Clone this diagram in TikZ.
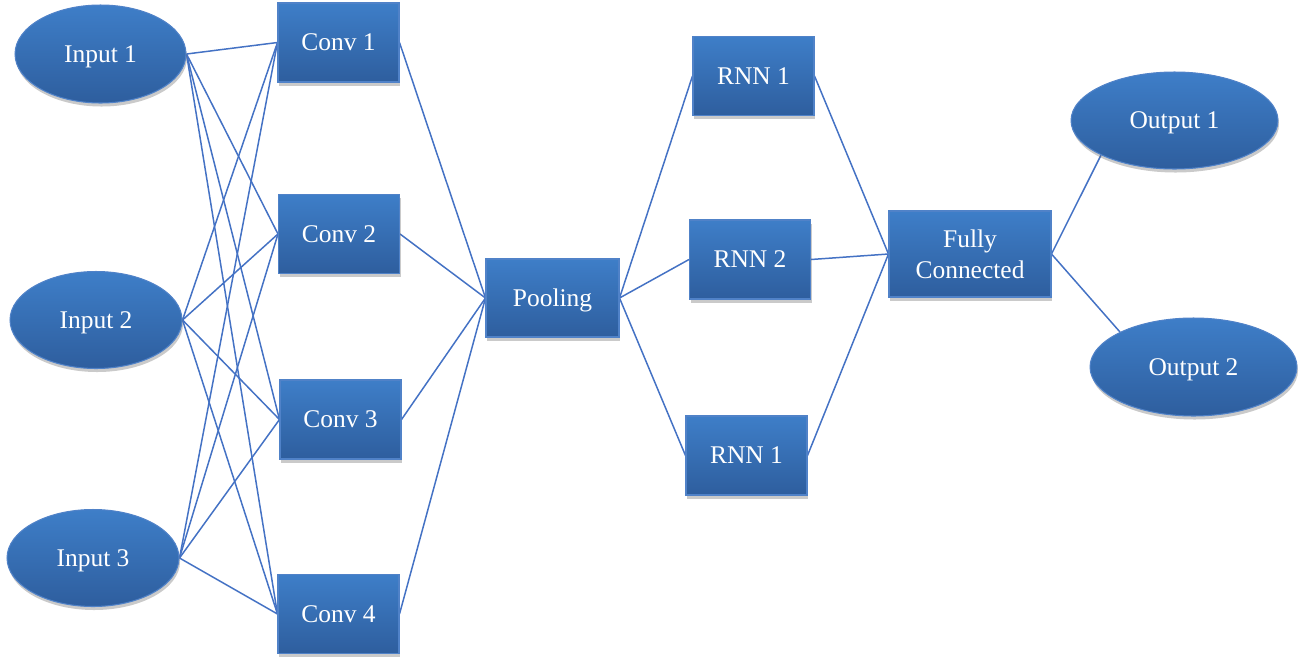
\documentclass[tikz,border=0pt]{standalone}
\usepackage{fontspec}
\setmainfont{Liberation Serif}
\usetikzlibrary{shapes.geometric,shadows,backgrounds}
\definecolor{topblue}{RGB}{62,126,200}
\definecolor{botblue}{RGB}{46,94,158}
\definecolor{edgeblue}{RGB}{80,130,200}
\definecolor{linkblue}{RGB}{68,114,196}
\tikzset{
  nodebase/.style={draw=edgeblue, line width=0.6pt, top color=topblue, bottom color=botblue,
    text=white, font=\fontsize{14.5}{17.5}\selectfont, inner sep=0pt, align=center,
    drop shadow={shadow xshift=0.6pt, shadow yshift=-2pt, opacity=0.35, fill=black!60}},
  oneline/.style={text height=0.95em, text depth=0pt},
  layerbox/.style={nodebase, rectangle, minimum width=2.42cm, minimum height=1.58cm},
  oval/.style={nodebase, oneline, ellipse, minimum width=3.44cm, minimum height=1.94cm},
  link/.style={draw=linkblue, line width=0.85pt}
}
\begin{document}
\begin{tikzpicture}[x=0.02cm, y=-0.02cm]
\useasboundingbox (0,0) rectangle (1299,657);
\node[oval, minimum width=3.42cm, minimum height=1.96cm] (in1) at (100.5,54) {Input 1};
\node[oval] (in2) at (96,320) {Input 2};
\node[oval] (in3) at (93,558) {Input 3};
\node[layerbox, oneline] (c1) at (338.5,42.5) {Conv 1};
\node[layerbox, oneline] (c2) at (339,234) {Conv 2};
\node[layerbox, oneline] (c3) at (340.5,419.5) {Conv 3};
\node[layerbox, oneline] (c4) at (338.5,614) {Conv 4};
\node[layerbox, oneline, minimum width=2.66cm, minimum height=1.56cm] (pool) at (552.5,298) {Pooling};
\node[layerbox, oneline] (r1) at (753.5,76) {RNN 1};
\node[layerbox, oneline] (r2) at (750,259.5) {RNN 2};
\node[layerbox, oneline] (r3) at (746.5,455.5) {RNN 1};
\node[layerbox, minimum width=3.24cm, minimum height=1.72cm] (fc) at (970,254) {Fully\\Connected};
\node[oval, minimum width=4.14cm, minimum height=1.94cm] (o1) at (1174.5,120.5) {Output 1};
\node[oval, minimum width=4.14cm, minimum height=1.96cm] (o2) at (1193.5,367) {Output 2};
\begin{scope}[on background layer]
\foreach \i in {in1,in2,in3}{
  \foreach \j in {c1,c2,c3,c4}{
    \draw[link] (\i.east) -- (\j.west);
  }
}
\foreach \j in {c1,c2,c3,c4}{
  \draw[link] (\j.east) -- (pool.west);
}
\foreach \r in {r1,r2,r3}{
  \draw[link] (pool.east) -- (\r.west);
  \draw[link] (\r.east) -- (fc.west);
}
\draw[link] (fc.east) -- (o1.south west);
\draw[link] (fc.east) -- (o2.north west);
\end{scope}
\end{tikzpicture}
\end{document}
